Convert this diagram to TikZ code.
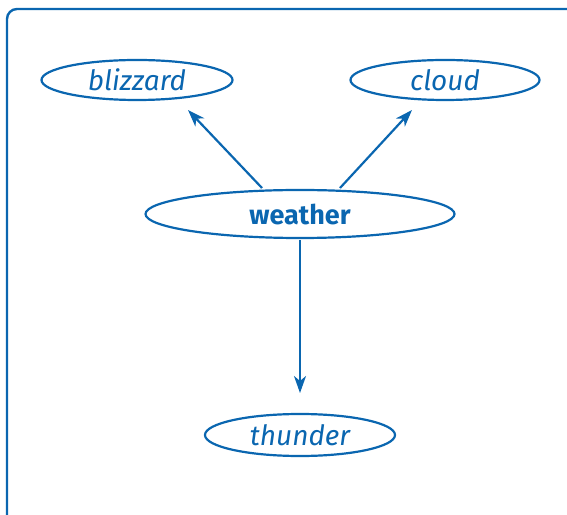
\documentclass[tikz,border=0pt]{standalone}
\usepackage{fontspec}
\setmainfont{Fira Sans}
\usetikzlibrary{shapes.geometric,arrows.meta}
\definecolor{wblue}{RGB}{10,102,176}
\begin{document}
\begin{tikzpicture}[x=1pt,y=1pt,
  oval/.style={ellipse,draw=wblue,line width=2.2pt,inner sep=0pt,text=wblue,font=\fontsize{28}{32}\selectfont\itshape},
  link/.style={draw=wblue,line width=2.2pt,-{Stealth[length=17pt,width=12pt,inset=5pt]}}]
\clip (0,0) rectangle (567,514);
\useasboundingbox (0,0) rectangle (567,514);
\draw[wblue,line width=2.4pt,rounded corners=10pt] (7,505) rectangle (600,-30);
\node[oval,minimum width=191pt,minimum height=40pt] (blizzard) at (137,434) {blizzard};
\node[oval,minimum width=189pt,minimum height=40pt] (cloud) at (445,434) {cloud};
\node[oval,minimum width=309pt,minimum height=48pt,font=\fontsize{27}{31}\selectfont\bfseries] (weather) at (300,300) {weather};
\node[oval,minimum width=190pt,minimum height=42pt] (thunder) at (300,79) {thunder};
\draw[link] ([shift={(-38,26)}]weather.center) -- ([shift={(51,-30)}]blizzard.center);
\draw[link] ([shift={(40,26)}]weather.center) -- ([shift={(-33,-30)}]cloud.center);
\draw[link] ([shift={(0,-26)}]weather.center) -- ([shift={(0,42)}]thunder.center);
\end{tikzpicture}
\end{document}
